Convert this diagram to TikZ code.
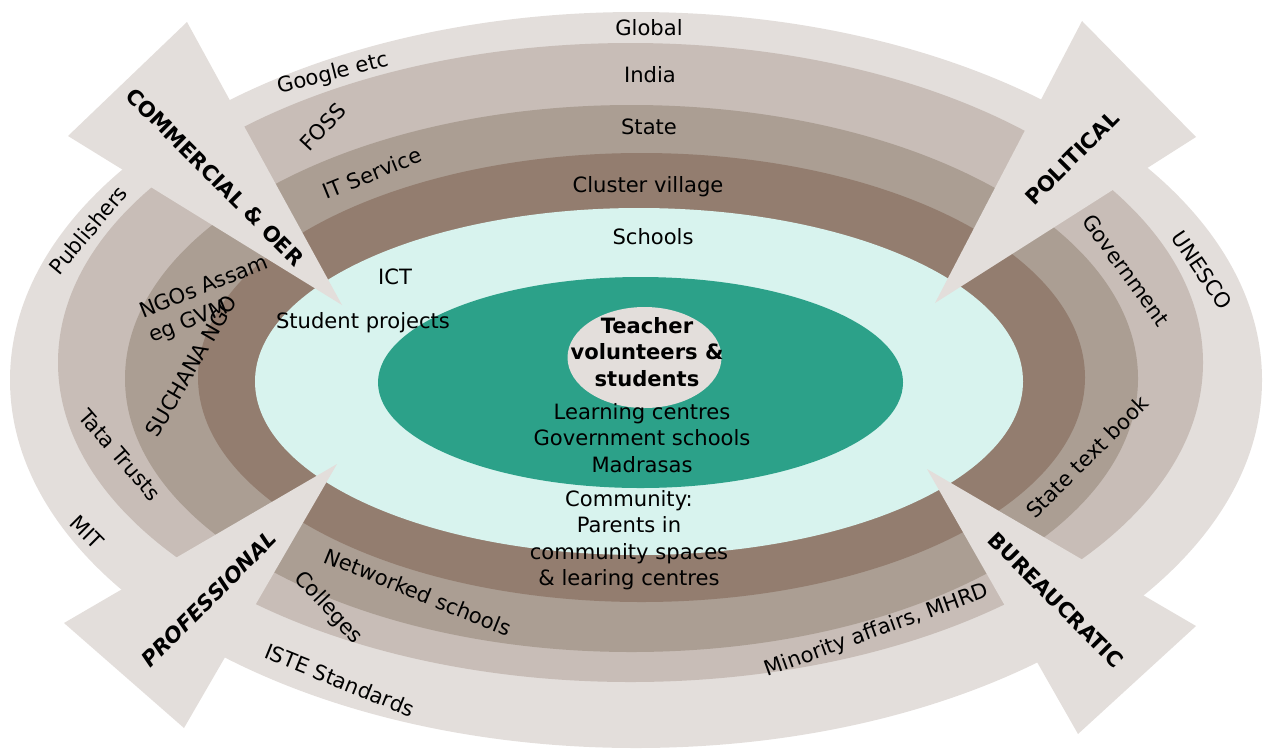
\documentclass[tikz,border=0pt]{standalone}
\usepackage{fontspec}
\setmainfont{DejaVu Sans}
\usepackage{tikz}
\usepackage{xcolor}
\definecolor{bandglobal}{HTML}{E3DEDB}
\definecolor{bandindia}{HTML}{C8BDB7}
\definecolor{bandstate}{HTML}{AB9E93}
\definecolor{bandcluster}{HTML}{937D6F}
\definecolor{bandschool}{HTML}{D8F3EE}
\definecolor{bandcentre}{HTML}{2CA189}

\begin{document}
\begin{tikzpicture}[x=0.02cm,y=-0.02cm,
    every node/.style={inner sep=1pt,align=center,font=\fontsize{12}{15}\selectfont},
    head/.style={font=\fontsize{12}{15}\selectfont\bfseries}]
  \useasboundingbox (0,0) rectangle (1263,751);

  \foreach \clr/\cx/\cy/\rx/\ry in {bandglobal/636/380/626/368,bandindia/630.5/362.5/572.5/319.5,
      bandstate/631.5/378.5/506.5/273.5,bandcluster/641.5/377.5/443.5/224.5,
      bandschool/639/381.5/384/173.5,bandcentre/640.5/382.5/262.5/105.5,bandglobal/644.5/357.5/77/50.5}
    \fill[\clr] (\cx,\cy) ellipse [x radius=\rx,y radius=\ry];

  \foreach \tx/\ty/\ax/\ay/\bx/\by in {342/305/187/22/68/136,935/303/1082/21/1196/137,
      927/469/1196/626/1078/734,337/464/64/623/184/728}
    \fill[bandglobal] (\tx,\ty) -- (\ax,\ay) -- (\bx,\by) -- cycle;

  \node (global) at (649,28) {Global};
  \node (india) at (650,75) {India};
  \node (state) at (649,127) {State};
  \node (cluster) at (648,187) {Cluster village};
  \node (schools) at (653,237) {Schools};
  \node (ict) at (395,277) {ICT};
  \node (projects) at (363,323) {Student projects};
  \node[head] (teacher) at (647,352) {Teacher\\volunteers \&\\students};
  \node (centres) at (642,438) {Learning centres\\Government schools\\Madrasas};
  \node (community) at (629,540) {Community:\\Parents in\\community spaces\\\& learing centres};

  \node[rotate=14] (google) at (333,74) {Google etc};
  \node[rotate=47] (foss) at (323,127) {FOSS};
  \node[rotate=22] (itservice) at (372,173) {IT Service};
  \node[rotate=50] (publishers) at (88,230) {Publishers};
  \node[rotate=22,align=left] (ngos) at (209,300) {NGOs Assam\\eg GVM};
  \node[rotate=60] (suchana) at (191,366) {SUCHANA NGO};
  \node[rotate=-49] (tata) at (120,455) {Tata Trusts};
  \node[rotate=-45] (mit) at (87,532) {MIT};
  \node[rotate=-22] (iste) at (340,680) {ISTE Standards};
  \node[rotate=-47] (colleges) at (328,608) {Colleges};
  \node[rotate=-22] (networked) at (418,592) {Networked schools};
  \node[rotate=20] (minority) at (877,631) {Minority affairs, MHRD};
  \node[rotate=45] (textbook) at (1087,457) {State text book};
  \node[rotate=-54] (government) at (1126,270) {Government};
  \node[rotate=-56] (unesco) at (1202,270) {UNESCO};

  \node[head,rotate=-45] (commercial) at (215,177) {COMMERCIAL \& OER};
  \node[head,rotate=45] (political) at (1072,158) {POLITICAL};
  \node[head,rotate=-45] (bureaucratic) at (1056,600) {BUREAUCRATIC};
  \node[head,rotate=45,font=\fontsize{12}{15}\selectfont\bfseries\itshape] (professional) at (209,599) {PROFESSIONAL};
\end{tikzpicture}
\end{document}
